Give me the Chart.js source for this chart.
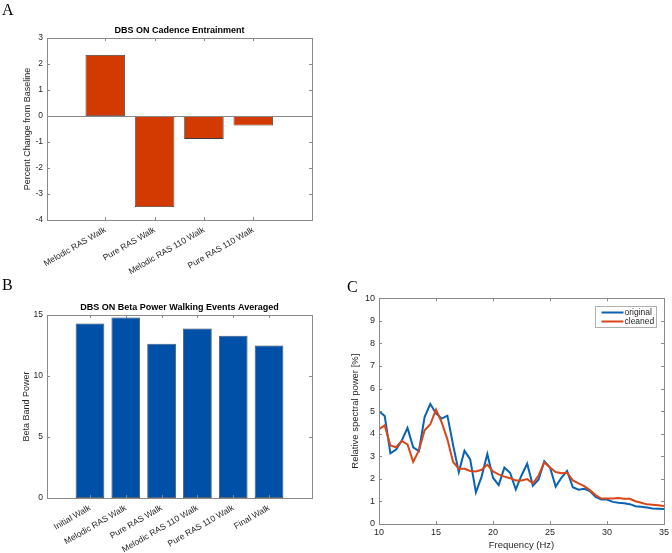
<!DOCTYPE html>
<html><head><meta charset="utf-8">
<script src="https://cdn.jsdelivr.net/npm/chart.js@4/dist/chart.umd.min.js"></script>
<style>
html,body{margin:0;padding:0;background:#fff;}
body{width:672px;height:553px;position:relative;overflow:hidden;}
.panel{position:absolute;}
.panel canvas{display:block;}
.letter{position:absolute;font-family:"Liberation Serif","Times New Roman",serif;font-size:16px;line-height:16px;color:#000;}
</style></head><body>
<div class="panel" style="left:0;top:0;width:340px;height:275px"><canvas id="cA" width="340" height="275" style="width:340px;height:275px"></canvas></div>
<div class="panel" style="left:0;top:270px;width:340px;height:283px"><canvas id="cB" width="340" height="283" style="width:340px;height:283px"></canvas></div>
<div class="panel" style="left:340px;top:270px;width:332px;height:283px"><canvas id="cC" width="332" height="283" style="width:332px;height:283px"></canvas></div>
<div class="letter" style="left:2px;top:2px">A</div>
<div class="letter" style="left:2px;top:277px">B</div>
<div class="letter" style="left:347px;top:279px">C</div>
<script>
// ---------- data ----------
const cadenceCategories = ['Melodic RAS Walk', 'Pure RAS Walk', 'Melodic RAS 110 Walk', 'Pure RAS 110 Walk'];
const cadenceChange = [2.35, -3.5, -0.88, -0.37];
const cadenceYTicks = [-4, -3, -2, -1, 0, 1, 2, 3];

const betaCategories = ['Initial Walk', 'Melodic RAS Walk', 'Pure RAS Walk', 'Melodic RAS 110 Walk', 'Pure RAS 110 Walk', 'Final Walk'];
const betaPower = [14.3, 14.8, 12.65, 13.9, 13.3, 12.5];
const betaYTicks = [0, 5, 10, 15];

const frequencyHz = [10, 10.5, 11, 11.5, 12, 12.5, 13, 13.5, 14, 14.5, 15, 15.5, 16, 16.5, 17, 17.5, 18, 18.5, 19, 19.5,
  20, 20.5, 21, 21.5, 22, 22.5, 23, 23.5, 24, 24.5, 25, 25.5, 26, 26.5, 27, 27.5, 28, 28.5, 29, 29.5,
  30, 30.5, 31, 31.5, 32, 32.5, 33, 33.5, 34, 34.5, 35];
const originalPower = [5.0, 4.78, 3.13, 3.3, 3.7, 4.26, 3.4, 3.23, 4.74, 5.32, 4.9, 4.67, 4.8, 3.5, 2.3, 3.25, 2.86, 1.4, 2.1, 3.1,
  2.05, 1.72, 2.5, 2.27, 1.53, 2.15, 2.67, 1.7, 1.97, 2.78, 2.5, 1.66, 2.05, 2.35, 1.63, 1.52, 1.56, 1.46, 1.2, 1.08,
  1.08, 0.98, 0.94, 0.92, 0.88, 0.79, 0.76, 0.73, 0.69, 0.68, 0.66];
const cleanedPower = [4.2, 4.37, 3.48, 3.4, 3.68, 3.53, 2.75, 3.26, 4.15, 4.42, 5.07, 4.5, 3.75, 2.75, 2.45, 2.45, 2.35, 2.33, 2.4, 2.63,
  2.33, 2.2, 2.1, 2.03, 1.93, 1.93, 1.99, 1.8, 2.15, 2.73, 2.5, 2.3, 2.25, 2.27, 1.93, 1.8, 1.68, 1.5, 1.28, 1.13,
  1.13, 1.13, 1.15, 1.12, 1.12, 1.01, 0.94, 0.87, 0.85, 0.83, 0.8];
const freqXTicks = [10, 15, 20, 25, 30, 35];
const powerYTicks = [0, 1, 2, 3, 4, 5, 6, 7, 8, 9, 10];
const seriesLabels = ['original', 'cleaned'];

// ---------- style ----------
const FONT = '"Liberation Sans", Arial, Helvetica, sans-serif';
Chart.defaults.font.family = FONT;
Chart.defaults.color = '#262626';
const AXIS_COLOR = '#8a8a8a';

const matlabAxes = {
  id: 'matlabAxes',
  afterDatasetsDraw(chart, args, opts) {
    const {ctx, chartArea: a, scales} = chart;
    ctx.save();
    ctx.strokeStyle = AXIS_COLOR;
    ctx.lineWidth = 1;
    const L = opts.tickLen || 3;
    ctx.beginPath();
    if (opts.zeroLine) {
      const y0 = Math.round(scales.y.getPixelForValue(0)) + 0.5;
      ctx.moveTo(a.left, y0); ctx.lineTo(a.right, y0);
    }
    scales.x.ticks.forEach(t => {
      const x = Math.round(scales.x.getPixelForValue(t.value)) + 0.5;
      ctx.moveTo(x, a.bottom); ctx.lineTo(x, a.bottom - L);
      ctx.moveTo(x, a.top); ctx.lineTo(x, a.top + L);
    });
    scales.y.ticks.forEach(t => {
      const y = Math.round(scales.y.getPixelForValue(t.value)) + 0.5;
      ctx.moveTo(a.left, y); ctx.lineTo(a.left + L, y);
      ctx.moveTo(a.right, y); ctx.lineTo(a.right - L, y);
    });
    ctx.stroke();
    ctx.strokeRect(Math.round(a.left) + 0.5, Math.round(a.top) + 0.5, Math.round(a.right - a.left), Math.round(a.bottom - a.top));
    ctx.restore();
  }
};

const insetLegend = {
  id: 'insetLegend',
  afterDraw(chart, args, opts) {
    if (!opts || !opts.display) return;
    const {ctx, chartArea: a} = chart;
    ctx.save();
    ctx.font = opts.fontSize + 'px ' + FONT;
    const items = chart.data.datasets.map(d => ({text: d.label, color: d.borderColor}));
    const tw = Math.max(...items.map(i => ctx.measureText(i.text).width));
    const w = opts.textX + tw + opts.padRight;
    const h = opts.rowH * items.length + opts.padV * 2;
    const x0 = Math.round(a.right - opts.right - w) + 0.5;
    const y0 = Math.round(a.top + opts.top) + 0.5;
    ctx.fillStyle = '#fff';
    ctx.fillRect(x0, y0, w, h);
    ctx.strokeStyle = '#b0b0b0';
    ctx.lineWidth = 1;
    ctx.strokeRect(x0, y0, Math.round(w), Math.round(h));
    items.forEach((it, i) => {
      const cy = y0 + opts.padV + opts.rowH * (i + 0.5);
      ctx.strokeStyle = it.color;
      ctx.lineWidth = 2;
      ctx.beginPath();
      ctx.moveTo(x0 + opts.lineX0, cy); ctx.lineTo(x0 + opts.lineX1, cy);
      ctx.stroke();
      ctx.fillStyle = '#262626';
      ctx.textBaseline = 'middle';
      ctx.textAlign = 'left';
      ctx.fillText(it.text, x0 + opts.textX, cy);
    });
    ctx.restore();
  }
};

function fixSize(w, h) {
  return function (scale) {
    if (w !== undefined) scale.width = w;
    if (h !== undefined) scale.height = h;
  };
}

function barChart(id, cats, vals, yTicks, color, cfg) {
  return new Chart(document.getElementById(id), {
    type: 'bar',
    data: {
      datasets: [{
        data: vals.map((v, i) => ({x: i + 1, y: v})),
        backgroundColor: color,
        borderColor: '#3c3c3c',
        borderWidth: 0.8,
        borderSkipped: false,
        categoryPercentage: 0.8,
        barPercentage: 1.0
      }]
    },
    options: {
      responsive: false,
      animation: false,
      devicePixelRatio: 1,
      layout: {padding: cfg.padding},
      plugins: {
        legend: {display: false},
        tooltip: {enabled: false},
        title: {
          display: true, text: cfg.title, fullSize: false,
          font: {size: 9, weight: 'bold'}, color: '#000',
          padding: {top: 0, bottom: 1.6}
        },
        matlabAxes: {zeroLine: cfg.zeroLine, tickLen: 3}
      },
      scales: {
        x: {
          type: 'linear', offset: false,
          min: cfg.xmin, max: cats.length + cfg.xmaxExtra,
          grid: {display: false, drawTicks: false},
          border: {display: false},
          afterBuildTicks: s => { s.ticks = cats.map((c, i) => ({value: i + 1})); },
          afterFit: fixSize(undefined, cfg.xH),
          ticks: {
            autoSkip: false, maxRotation: 30, minRotation: 30,
            font: {size: 8.5}, padding: cfg.xTickPad,
            callback: v => cats[Math.round(v) - 1] || ''
          }
        },
        y: {
          min: yTicks[0], max: yTicks[yTicks.length - 1],
          grid: {display: false, drawTicks: false},
          border: {display: false},
          afterBuildTicks: s => { s.ticks = yTicks.map(v => ({value: v})); },
          afterFit: fixSize(47, undefined),
          ticks: {font: {size: 8.5}, padding: 4},
          title: {display: true, text: cfg.ylabel, font: {size: 9}, color: '#262626', padding: {top: cfg.yTitlePad, bottom: 0}}
        }
      }
    },
    plugins: [matlabAxes]
  });
}

barChart('cA', cadenceCategories, cadenceChange, cadenceYTicks, '#d23a02', {
  title: 'DBS ON Cadence Entrainment',
  ylabel: 'Percent Change from Baseline',
  padding: {top: 25.6, right: 28, left: 0, bottom: 0},
  xmin: -0.18, xmaxExtra: 1.19, xH: 55, xTickPad: 5, yTitlePad: 22, zeroLine: true
});

barChart('cB', betaCategories, betaPower, betaYTicks, '#0050a8', {
  title: 'DBS ON Beta Power Walking Events Averaged',
  ylabel: 'Beta Band Power',
  padding: {top: 32.6, right: 28, left: 0, bottom: 0},
  xmin: -0.2, xmaxExtra: 1.2, xH: 55, xTickPad: 5, yTitlePad: 21, zeroLine: false
});

new Chart(document.getElementById('cC'), {
  type: 'line',
  data: {
    labels: frequencyHz,
    datasets: [
      {label: seriesLabels[0], data: frequencyHz.map((f, i) => ({x: f, y: originalPower[i]})),
       borderColor: '#0863b4', borderWidth: 2, pointRadius: 0, tension: 0, fill: false, order: 1},
      {label: seriesLabels[1], data: frequencyHz.map((f, i) => ({x: f, y: cleanedPower[i]})),
       borderColor: '#d9461a', borderWidth: 2, pointRadius: 0, tension: 0, fill: false, order: 0}
    ]
  },
  options: {
    responsive: false,
    animation: false,
    devicePixelRatio: 1,
    layout: {padding: {top: 28.3, right: 8, left: 0, bottom: 0}},
    plugins: {
      legend: {display: false},
      tooltip: {enabled: false},
      matlabAxes: {zeroLine: false, tickLen: 3},
      insetLegend: {display: true, right: 8, top: 8, fontSize: 8.5, rowH: 9, padV: 1.5,
        lineX0: 6, lineX1: 28, textX: 29, padRight: 2}
    },
    scales: {
      x: {
        type: 'linear', min: freqXTicks[0], max: freqXTicks[freqXTicks.length - 1],
        grid: {display: false, drawTicks: false},
        border: {display: false},
        afterBuildTicks: s => { s.ticks = freqXTicks.map(v => ({value: v})); },
        afterFit: fixSize(undefined, 29),
        ticks: {font: {size: 9}, padding: 3, maxRotation: 0},
        title: {display: true, text: 'Frequency (Hz)', font: {size: 9.5}, color: '#262626', padding: {top: 0, bottom: 1.6}}
      },
      y: {
        min: powerYTicks[0], max: powerYTicks[powerYTicks.length - 1],
        grid: {display: false, drawTicks: false},
        border: {display: false},
        afterBuildTicks: s => { s.ticks = powerYTicks.map(v => ({value: v})); },
        afterFit: fixSize(39, undefined),
        ticks: {font: {size: 9}, padding: 4},
        title: {display: true, text: 'Relative spectral power [%]', font: {size: 9.5}, color: '#262626', padding: {top: 10, bottom: 0}}
      }
    }
  },
  plugins: [matlabAxes, insetLegend]
});
</script>
</body></html>
